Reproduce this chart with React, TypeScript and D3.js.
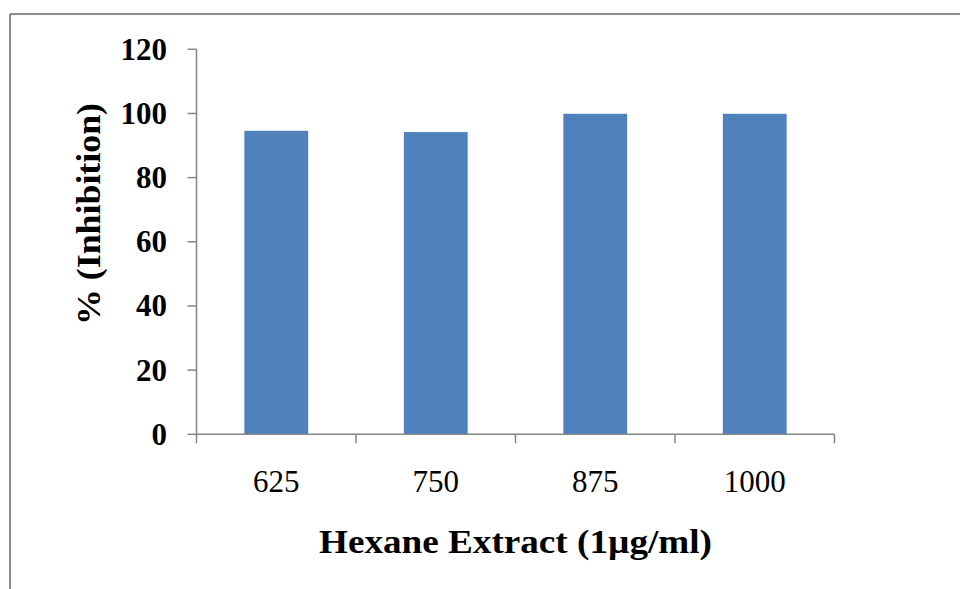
import React from "react";
import * as d3 from "d3";

const categories = ["625", "750", "875", "1000"];
const inhibition = [94.6, 94.2, 99.9, 99.9];
const yTicks = [0, 20, 40, 60, 80, 100, 120];

const W = 960;
const H = 589;
const plot = { left: 196.5, right: 834.5, top: 49.3, bottom: 434.3 };
const axisColor = "#868686";
const barColor = "#4F81BD";
const font = "'Liberation Serif', 'Times New Roman', serif";

export default function App() {
  const x = d3
    .scaleBand<string>()
    .domain(categories)
    .range([plot.left, plot.right])
    .paddingInner(0.6)
    .paddingOuter(0.3);
  const y = d3.scaleLinear().domain([0, 120]).range([plot.bottom, plot.top]);
  const boundaries = d3
    .range(categories.length + 1)
    .map((i) => plot.left + i * ((plot.right - plot.left) / categories.length));

  return (
    <svg
      width={W}
      height={H}
      style={{ position: "absolute", left: 0, top: 0, background: "#fff" }}
    >
      {/* chart frame */}
      <line x1={10} y1={14} x2={W} y2={14} stroke="#8c8c8c" strokeWidth={2} />
      <line x1={10} y1={14} x2={10} y2={H} stroke="#8c8c8c" strokeWidth={2} />

      {/* bars */}
      {categories.map((c, i) => (
        <rect
          key={c}
          x={x(c)}
          y={y(inhibition[i])}
          width={x.bandwidth()}
          height={y(0) - y(inhibition[i])}
          fill={barColor}
        />
      ))}

      {/* y axis */}
      <line x1={plot.left} y1={plot.top} x2={plot.left} y2={plot.bottom} stroke={axisColor} strokeWidth={1.5} />
      {yTicks.map((t) => (
        <g key={t}>
          <line x1={plot.left - 9} x2={plot.left} y1={y(t)} y2={y(t)} stroke={axisColor} strokeWidth={1.5} />
          <text
            x={167}
            y={y(t) + 10.5}
            textAnchor="end"
            fontFamily={font}
            fontWeight="bold"
            fontSize={31}
            fill="#000"
          >
            {t}
          </text>
        </g>
      ))}

      {/* x axis */}
      <line x1={plot.left} y1={plot.bottom} x2={plot.right} y2={plot.bottom} stroke={axisColor} strokeWidth={1.5} />
      {boundaries.map((bx, i) => (
        <line key={i} x1={bx} x2={bx} y1={plot.bottom} y2={plot.bottom + 9} stroke={axisColor} strokeWidth={1.5} />
      ))}
      {categories.map((c) => (
        <text
          key={c}
          x={(x(c) as number) + x.bandwidth() / 2}
          y={491.5}
          textAnchor="middle"
          fontFamily={font}
          fontSize={31}
          fill="#000"
        >
          {c}
        </text>
      ))}

      {/* axis titles */}
      <text
        x={(plot.left + plot.right) / 2}
        y={553}
        textAnchor="middle"
        fontFamily={font}
        fontWeight="bold"
        fontSize={33}
        textLength={393}
        lengthAdjust="spacingAndGlyphs"
        fill="#000"
      >
        Hexane Extract (1µg/ml)
      </text>
      <text
        transform={`translate(100, 214) rotate(-90)`}
        textAnchor="middle"
        fontFamily={font}
        fontWeight="bold"
        fontSize={33}
        textLength={222}
        lengthAdjust="spacingAndGlyphs"
        fill="#000"
      >
        % (Inhibition)
      </text>
    </svg>
  );
}
